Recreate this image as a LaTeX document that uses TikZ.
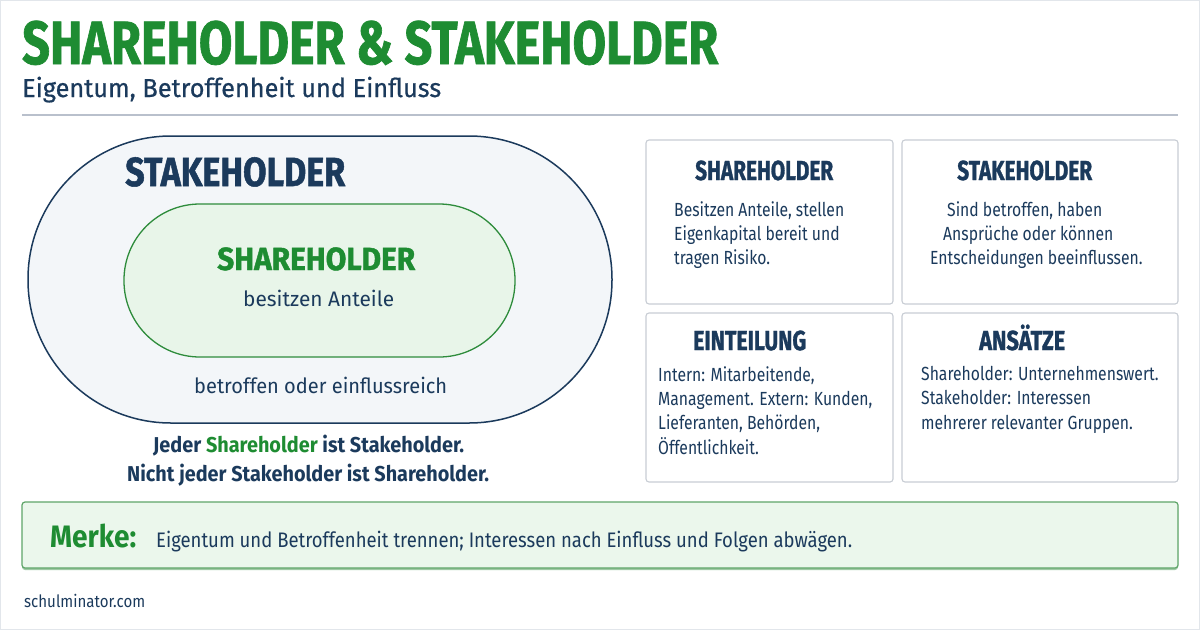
\documentclass[tikz,border=0pt]{standalone}
\usepackage{fontspec}
\setmainfont{Fira Sans}
\newfontfamily\headfont[BoldFeatures={FakeBold=1.3}]{Fira Sans}
\newfontfamily\medfont[FakeBold=0.6]{Fira Sans}
\usepackage{graphicx}
\definecolor{titlegreen}{RGB}{30,140,50}
\definecolor{navy}{RGB}{27,58,92}
\definecolor{outerfill}{RGB}{243,246,249}
\definecolor{innerfill}{RGB}{232,245,233}
\definecolor{greenline}{RGB}{46,140,60}
\definecolor{cardline}{RGB}{200,205,212}
\definecolor{rulecol}{RGB}{185,192,204}
\definecolor{merkefill}{RGB}{235,247,236}
\definecolor{merkeline}{RGB}{95,165,105}
\definecolor{framecol}{RGB}{226,230,235}
\newlength\fitlen
\newcommand\fitx[2]{\settowidth\fitlen{#2}\pgfmathsetmacro\fitf{#1/\fitlen}\scalebox{\fitf}[1]{#2}}
\newcommand\bodyx[1]{\scalebox{\bodyf}[1]{\fontsize{19}{23}\selectfont #1}}
\tikzset{
  txt/.style={inner sep=0pt, anchor=base west, text=navy},
  card/.style={draw=cardline, fill=white, line width=1.1pt, rounded corners=3pt},
  headtxt/.style={txt, font=\headfont\bfseries\fontsize{27.5}{28}\selectfont},
}
\begin{document}
\settowidth\fitlen{\fontsize{19}{23}\selectfont Besitzen Anteile, stellen}%
\pgfmathsetmacro\bodyf{170/\fitlen}%
\begin{tikzpicture}[x=1pt,y=-1pt]
\useasboundingbox (0,0) rectangle (1200,630);
\fill[white] (0,0) rectangle (1200,630);
\draw[framecol, line width=1.2pt] (0.6,0.6) rectangle (1199.4,629.4);
% title
\node[txt, text=titlegreen] (title) at (22,64) {\fitx{696}{\headfont\bfseries\fontsize{61}{61}\selectfont SHAREHOLDER \& STAKEHOLDER}};
\node[txt] (sub) at (22,97) {\fitx{419}{\medfont\fontsize{26}{26}\selectfont Eigentum, Betroffenheit und Einfluss}};
\coordinate (r1) at (22,115);
\coordinate (r2) at (1178,115);
\draw[rulecol, line width=2pt] (r1) -- (r2);
% stadiums
\draw[navy, fill=outerfill, line width=1.5pt, rounded corners=143pt] (28,136) rectangle (612,423);
\draw[greenline, fill=innerfill, line width=1.3pt, rounded corners=76pt] (124,204) rectangle (515,357);
\node[txt] (stk) at (125,186) {\fitx{220}{\headfont\bfseries\fontsize{40.6}{41}\selectfont STAKEHOLDER}};
\node[txt, text=titlegreen] (shr) at (217,270) {\fitx{198}{\headfont\bfseries\fontsize{32}{32}\selectfont SHAREHOLDER}};
\node[txt] (besitz) at (243,306) {\fitx{151}{\fontsize{21}{21}\selectfont besitzen Anteile}};
\node[txt] (betr) at (194,393) {\fitx{253}{\fontsize{21}{21}\selectfont betroffen oder einflussreich}};
\node[txt] (jeder) at (153,452) {\fitx{311}{\bfseries\fontsize{21.5}{22}\selectfont Jeder \textcolor{titlegreen}{Shareholder} ist Stakeholder.}};
\node[txt] (nicht) at (127,481) {\fitx{362}{\bfseries\fontsize{21.5}{22}\selectfont Nicht jeder Stakeholder ist Shareholder.}};
% cards
\draw[card] (646,140) rectangle (893,304);
\draw[card] (902,140) rectangle (1178,304);
\draw[card] (646,313) rectangle (893,482);
\draw[card] (902,313) rectangle (1178,482);
\node[headtxt] (h1) at (695,180) {\fitx{138}{SHAREHOLDER}};
\node[headtxt] (h2) at (957,180) {\fitx{135}{STAKEHOLDER}};
\node[headtxt] (h3) at (693,350) {\fitx{113}{EINTEILUNG}};
\node[headtxt] (h4) at (979,350) {\fitx{86}{ANSÄTZE}};
\node[txt] (a1) at (674,216) {\bodyx{Besitzen Anteile, stellen}};
\node[txt] (a2) at (674,240) {\bodyx{Eigenkapital bereit und}};
\node[txt] (a3) at (674,264) {\bodyx{tragen Risiko.}};
\node[txt] (b1) at (947,216) {\bodyx{Sind betroffen, haben}};
\node[txt] (b2) at (943,240) {\bodyx{Ansprüche oder können}};
\node[txt] (b3) at (930,264) {\bodyx{Entscheidungen beeinflussen.}};
\node[txt] (c1) at (658,381) {\bodyx{Intern: Mitarbeitende,}};
\node[txt] (c2) at (658,405) {\bodyx{Management. Extern: Kunden,}};
\node[txt] (c3) at (658,429) {\bodyx{Lieferanten, Behörden,}};
\node[txt] (c4) at (658,454) {\bodyx{Öffentlichkeit.}};
\node[txt] (d1) at (921,380) {\bodyx{Shareholder: Unternehmenswert.}};
\node[txt] (d2) at (921,404) {\bodyx{Stakeholder: Interessen}};
\node[txt] (d3) at (921,429) {\bodyx{mehrerer relevanter Gruppen.}};
% merke
\fill[merkeline!60, rounded corners=3pt] (22,504) rectangle (1178,570);
\draw[merkeline, fill=merkefill, line width=1.2pt, rounded corners=3pt] (22,502) rectangle (1178,568);
\node[txt, text=titlegreen] (merke) at (50,547) {\fitx{86}{\bfseries\fontsize{31}{31}\selectfont Merke:}};
\node[txt] (merketxt) at (156,547) {\fitx{696}{\fontsize{21}{21}\selectfont Eigentum und Betroffenheit trennen; Interessen nach Einfluss und Folgen abwägen.}};
\node[txt] (web) at (24,607) {\fitx{121}{\fontsize{17}{17}\selectfont schulminator.com}};
\end{tikzpicture}
\end{document}
